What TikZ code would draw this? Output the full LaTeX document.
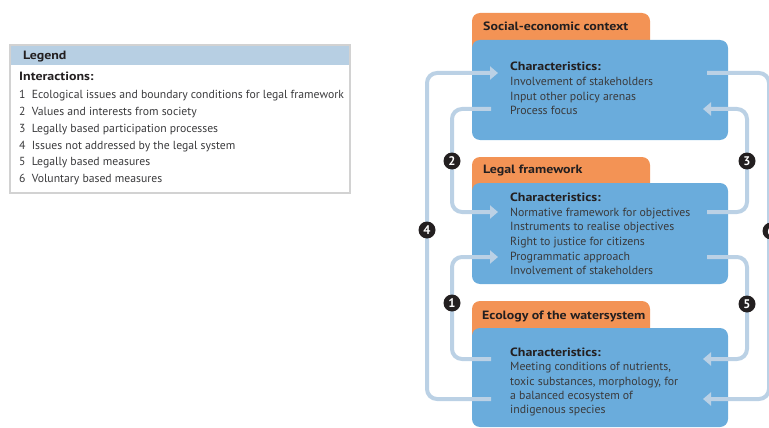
\documentclass[tikz,border=0pt]{standalone}
\usepackage{fontspec}
\setmainfont{PT Sans}
\newfontfamily\widesans[FakeStretch=1.16]{PT Sans}
\usetikzlibrary{arrows.meta}
\definecolor{boxblue}{HTML}{6AACDC}
\definecolor{taborange}{HTML}{F39355}
\definecolor{connblue}{HTML}{BBD1E5}
\definecolor{legendhead}{HTML}{B7CFE3}
\definecolor{legendline}{HTML}{D2D2D2}
\definecolor{txtdark}{HTML}{3A3A3C}
\definecolor{badgedark}{HTML}{231F20}
\begin{document}
\begin{tikzpicture}[x=1pt,y=-1pt,
  bluebox/.style={fill=boxblue,rounded corners=8pt},
  tabbox/.style={fill=taborange,rounded corners=8pt},
  conn/.style={draw=connblue,line width=4pt,rounded corners=10pt},
  arr/.style={-{Triangle[length=8pt,width=13pt]}},
  title/.style={anchor=base west,inner sep=0pt,font=\fontsize{12}{14}\selectfont\widesans\bfseries,text=badgedark},
  chartxt/.style={anchor=base west,inner sep=0pt,font=\fontsize{11.8}{14}\selectfont,text=txtdark},
  charhead/.style={anchor=base west,inner sep=0pt,font=\fontsize{12}{14}\selectfont\widesans\bfseries,text=badgedark},
  legtxt/.style={anchor=base west,inner sep=0pt,font=\fontsize{11.7}{14}\selectfont,text=txtdark},
  leghead/.style={anchor=base west,inner sep=0pt,font=\fontsize{12}{14}\selectfont\widesans\bfseries,text=badgedark},
  badge/.style={circle,fill=badgedark,text=white,inner sep=0pt,minimum size=17pt,font=\fontsize{12.5}{14}\selectfont\bfseries}]
\useasboundingbox (0,0) rectangle (769,428);
\clip (0,0) rectangle (769,428);

% ---------- Legend ----------
\fill[legendhead] (10,45) rectangle (350,65);
\draw[legendline,line width=1.2pt] (10,45) rectangle (350,193);
\node[leghead] (lg) at (23,60) {Legend};
\node[leghead] (li) at (19,81) {Interactions:};
\node[legtxt] (l1) at (19,99) {1\ \ Ecological issues and boundary conditions for legal framework};
\node[legtxt] (l2) at (19,116) {2\ \ Values and interests from society};
\node[legtxt] (l3) at (19,132) {3\ \ Legally based participation processes};
\node[legtxt] (l4) at (19,149) {4\ \ Issues not addressed by the legal system};
\node[legtxt] (l5) at (19,165) {5\ \ Legally based measures};
\node[legtxt] (l6) at (19,182) {6\ \ Voluntary based measures};

% ---------- Boxes ----------
\fill[tabbox] (472,13) rectangle (650,55);
\fill[bluebox] (472,40) rectangle (728,140);
\fill[tabbox] (472,157) rectangle (650,200);
\fill[bluebox] (472,183) rectangle (728,284);
\fill[tabbox] (472,301) rectangle (650,345);
\fill[bluebox] (472,328) rectangle (728,427);

\node[title] (t1) at (483,30.5) {Social-economic context};
\node[title] (t2) at (483,173.5) {Legal framework};
\node[title] (t3) at (482,319.5) {Ecology of the watersystem};

\node[charhead] (a0) at (510,71) {Characteristics:};
\node[chartxt] (a1) at (510,85.5) {Involvement of stakeholders};
\node[chartxt] (a2) at (510,100) {Input other policy arenas};
\node[chartxt] (a3) at (510,114) {Process focus};

\node[charhead] (b0) at (510,201) {Characteristics:};
\node[chartxt] (bb1) at (510,216) {Normative framework for objectives};
\node[chartxt] (bb2) at (510,230.5) {Instruments to realise objectives};
\node[chartxt] (bb3) at (510,245) {Right to justice for citizens};
\node[chartxt] (bb4) at (510,260) {Programmatic approach};
\node[chartxt] (bb5) at (510,274) {Involvement of stakeholders};

\node[charhead] (c0) at (510,356) {Characteristics:};
\node[chartxt] (c1) at (510,370) {Meeting conditions of nutrients,};
\node[chartxt] (c2) at (510,385) {toxic substances, morphology, for};
\node[chartxt] (c3) at (510,399) {a balanced ecosystem of};
\node[chartxt] (c4) at (510,413) {indigenous species};

% ---------- Connector coordinates ----------
\coordinate (s4) at (491,399); \coordinate (e4) at (498,73);  \coordinate (x4) at (427,0);
\coordinate (s2) at (491,109); \coordinate (e2) at (498,212); \coordinate (x2) at (452,0);
\coordinate (s1) at (491,359); \coordinate (e1) at (498,257); \coordinate (x1) at (452,0);
\coordinate (s3) at (707,212); \coordinate (e3) at (703,109); \coordinate (x3) at (747,0);
\coordinate (s5) at (707,257); \coordinate (e5) at (703,359); \coordinate (x5) at (747,0);
\coordinate (s6) at (707,73);  \coordinate (e6) at (703,399); \coordinate (x6) at (769,0);

\foreach \i in {1,...,6}{
  \draw[conn,arr] (s\i) -- (s\i -| x\i) -- (e\i -| x\i) -- (e\i);
}

% ---------- Badges ----------
\node[badge] (n1) at (452,303) {1};
\node[badge] (n2) at (452,161) {2};
\node[badge] (n3) at (747,161) {3};
\node[badge] (n4) at (427,230) {4};
\node[badge] (n5) at (747,304) {5};
\node[badge] (n6) at (771,231) {6};
\end{tikzpicture}
\end{document}
